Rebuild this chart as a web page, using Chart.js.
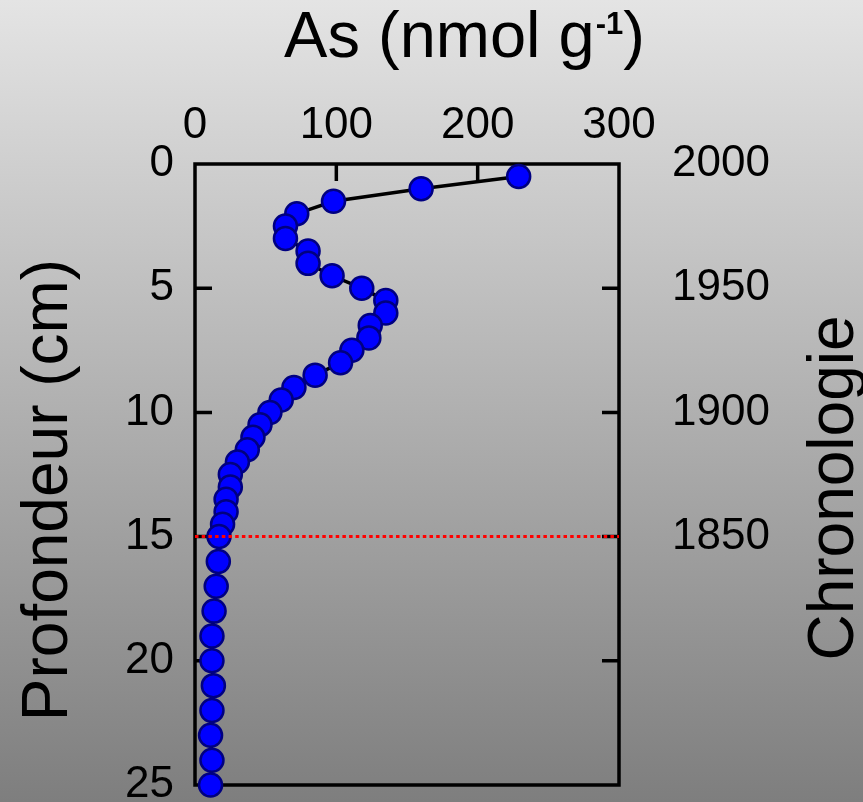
<!DOCTYPE html>
<html>
<head>
<meta charset="utf-8">
<script src="https://cdn.jsdelivr.net/npm/chart.js@4/dist/chart.umd.min.js"></script>
<style>
  html, body { margin: 0; padding: 0; background: #b0b0b0; }
  #wrap { width: 863px; height: 802px; position: relative; }
  canvas { display: block; }
</style>
</head>
<body>
<div id="wrap"><canvas id="c" width="863" height="802"></canvas></div>
<script>
// ---- data ----
const depths = [0.5, 1, 1.5, 2, 2.5, 3, 3.5, 4, 4.5, 5,
                5.5, 6, 6.5, 7, 7.5, 8, 8.5, 9, 9.5, 10,
                10.5, 11, 11.5, 12, 12.5, 13, 13.5, 14, 14.5, 15,
                16, 17, 18, 19, 20, 21, 22, 23, 24, 25];
const arsenic = [229, 160, 98, 72, 64, 64, 80, 80, 97, 118,
                 135, 135, 124, 123, 111, 103, 85, 70, 61, 53,
                 46, 41, 37, 30, 25, 25, 22, 22, 19.5, 17,
                 16.5, 15, 13.5, 12, 12, 13, 12, 11, 12, 11];
const xTicks = [0, 100, 200, 300];
const depthTicks = [0, 5, 10, 15, 20, 25];
const chronoDepths = [0, 5, 10, 15];
const chronoLabels = ['2000', '1950', '1900', '1850'];
const markerDepth = 15;
const markerRange = [0, 300];

const FONT = "'Liberation Sans', Arial, sans-serif";

const points = depths.map((d, i) => ({ x: arsenic[i], y: d }));
const marker = markerRange.map(x => ({ x: x, y: markerDepth }));

const bgPlugin = {
  id: 'bg',
  beforeDraw(chart) {
    const ctx = chart.ctx;
    const g = ctx.createLinearGradient(0, 0, 0, chart.height);
    g.addColorStop(0, '#e4e4e4');
    g.addColorStop(1, '#7e7e7e');
    ctx.save();
    ctx.fillStyle = g;
    ctx.fillRect(0, 0, chart.width, chart.height);
    ctx.restore();
  }
};

const framePlugin = {
  id: 'frame',
  beforeDatasetsDraw(chart) {
    const ctx = chart.ctx;
    const a = chart.chartArea;
    const xs = chart.scales.x, ys = chart.scales.y;
    ctx.save();
    ctx.strokeStyle = '#000';
    ctx.lineWidth = 3.5;
    ctx.lineCap = 'butt';
    ctx.lineJoin = 'miter';
    ctx.strokeRect(a.left, a.top, a.right - a.left, a.bottom - a.top);
    const TL = 17;
    ctx.beginPath();
    xTicks.forEach(v => {
      const px = xs.getPixelForValue(v);
      if (px > a.left + 2 && px < a.right - 2) {
        ctx.moveTo(px, a.top); ctx.lineTo(px, a.top + TL);
      }
    });
    depthTicks.forEach(v => {
      const py = ys.getPixelForValue(v);
      if (py > a.top + 2 && py < a.bottom - 2) {
        ctx.moveTo(a.left, py); ctx.lineTo(a.left + TL, py);
        ctx.moveTo(a.right, py); ctx.lineTo(a.right - TL, py);
      }
    });
    ctx.stroke();
    ctx.restore();
  }
};

const titlePlugin = {
  id: 'titles',
  afterDraw(chart) {
    const ctx = chart.ctx;
    ctx.save();
    ctx.fillStyle = '#000';
    ctx.textBaseline = 'alphabetic';
    ctx.textAlign = 'left';
    // top title with superscript
    const big = '65px ' + FONT, sup = 'bold 31px ' + FONT;
    const t1 = 'As (nmol g', t2 = '-1', t3 = ')';
    ctx.font = big; const w1 = ctx.measureText(t1).width, w3 = ctx.measureText(t3).width;
    ctx.font = sup; const w2 = ctx.measureText(t2).width;
    const total = w1 + w2 + w3;
    let x0 = 464 - total / 2;
    ctx.font = big; ctx.fillText(t1, x0, 57);
    ctx.font = sup; ctx.fillText(t2, x0 + w1 + 1, 34);
    ctx.font = big; ctx.fillText(t3, x0 + w1 + w2 + 1, 57);
    // left title
    ctx.font = '64px ' + FONT;
    ctx.textAlign = 'center';
    ctx.save();
    ctx.translate(67, 490);
    ctx.rotate(-Math.PI / 2);
    ctx.fillText('Profondeur (cm)', 0, 0);
    ctx.restore();
    // right title
    ctx.save();
    ctx.translate(853, 488);
    ctx.rotate(-Math.PI / 2);
    ctx.fillText('Chronologie', 0, 0);
    ctx.restore();
    ctx.restore();
  }
};

function fixV(width) {
  return function (s) {
    s.width = width;
    s.paddingTop = 0;
    s.paddingBottom = 0;
  };
}

const chart = new Chart(document.getElementById('c'), {
  type: 'scatter',
  data: {
    datasets: [
      {
        data: marker,
        showLine: true,
        borderColor: '#ff0000',
        borderWidth: 3,
        borderDash: [3.5, 3.2],
        pointRadius: 0,
        fill: false,
        clip: false,
        yAxisID: 'y'
      },
      {
        data: points,
        showLine: true,
        borderColor: '#000000',
        borderWidth: 3.5,
        pointRadius: 11.5,
        pointHoverRadius: 11.5,
        pointBackgroundColor: '#0000ff',
        pointBorderColor: '#000080',
        pointBorderWidth: 2.5,
        fill: false,
        clip: false,
        tension: 0,
        yAxisID: 'y'
      }
    ]
  },
  options: {
    responsive: false,
    animation: false,
    devicePixelRatio: 1,
    layout: { padding: { left: 0, right: 0, top: 0, bottom: 17 } },
    plugins: { legend: { display: false }, tooltip: { enabled: false } },
    events: [],
    scales: {
      x: {
        type: 'linear',
        position: 'top',
        min: 0, max: 300,
        afterFit(s) { s.height = 164; s.paddingLeft = 0; s.paddingRight = 0; },
        afterBuildTicks(s) { s.ticks = xTicks.map(v => ({ value: v })); },
        grid: { display: false, drawTicks: false },
        border: { display: false },
        ticks: {
          font: { family: FONT, size: 44 },
          color: '#000',
          padding: 12,
          maxRotation: 0,
          autoSkip: false
        }
      },
      y: {
        type: 'linear',
        position: 'left',
        reverse: true,
        min: 0, max: 25,
        afterFit: fixV(195),
        afterBuildTicks(s) { s.ticks = depthTicks.map(v => ({ value: v })); },
        grid: { display: false, drawTicks: false },
        border: { display: false },
        ticks: {
          font: { family: FONT, size: 44 },
          color: '#000',
          padding: 21,
          autoSkip: false
        }
      },
      y2: {
        type: 'linear',
        position: 'right',
        reverse: true,
        min: 0, max: 25,
        afterFit: fixV(244),
        afterBuildTicks(s) { s.ticks = chronoDepths.map(v => ({ value: v })); },
        grid: { display: false, drawTicks: false },
        border: { display: false },
        ticks: {
          font: { family: FONT, size: 44 },
          color: '#000',
          padding: 53,
          autoSkip: false,
          callback(v) {
            const i = chronoDepths.indexOf(v);
            return i >= 0 ? chronoLabels[i] : '';
          }
        }
      }
    }
  },
  plugins: [bgPlugin, framePlugin, titlePlugin]
});
</script>
</body>
</html>
